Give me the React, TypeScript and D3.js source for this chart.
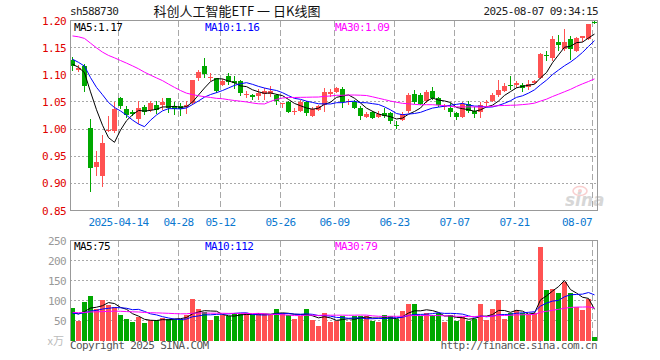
import React from 'react';
import * as d3 from 'd3';

// trading days shown on the chart
const dates = [
  '2025-04-01', '2025-04-02', '2025-04-03', '2025-04-07', '2025-04-08', '2025-04-09', '2025-04-10', '2025-04-11',
  '2025-04-14', '2025-04-15', '2025-04-16', '2025-04-17', '2025-04-18', '2025-04-21', '2025-04-22', '2025-04-23',
  '2025-04-24', '2025-04-25', '2025-04-28', '2025-04-29', '2025-04-30', '2025-05-06', '2025-05-07', '2025-05-08',
  '2025-05-09', '2025-05-12', '2025-05-13', '2025-05-14', '2025-05-15', '2025-05-16', '2025-05-19', '2025-05-20',
  '2025-05-21', '2025-05-22', '2025-05-23', '2025-05-26', '2025-05-27', '2025-05-28', '2025-05-29', '2025-05-30',
  '2025-06-03', '2025-06-04', '2025-06-05', '2025-06-06', '2025-06-09', '2025-06-10', '2025-06-11', '2025-06-12',
  '2025-06-13', '2025-06-16', '2025-06-17', '2025-06-18', '2025-06-19', '2025-06-20', '2025-06-23', '2025-06-24',
  '2025-06-25', '2025-06-26', '2025-06-27', '2025-06-30', '2025-07-01', '2025-07-02', '2025-07-03', '2025-07-04',
  '2025-07-07', '2025-07-08', '2025-07-09', '2025-07-10', '2025-07-11', '2025-07-14', '2025-07-15', '2025-07-16',
  '2025-07-17', '2025-07-18', '2025-07-21', '2025-07-22', '2025-07-23', '2025-07-24', '2025-07-25', '2025-07-28',
  '2025-07-29', '2025-07-30', '2025-07-31', '2025-08-01', '2025-08-04', '2025-08-05', '2025-08-06', '2025-08-07',
];

const opens = [
  1.127, 1.108, 1.117, 1.002, 0.931, 0.914, 0.996, 0.997, 1.057, 1.037, 1.031, 1.018, 1.040, 1.036, 1.045, 1.045,
  1.058, 1.043, 1.042, 1.041, 1.048, 1.095, 1.117, 1.094, 1.094, 1.081, 1.098, 1.089, 1.088, 1.063, 1.063, 1.061,
  1.064, 1.064, 1.063, 1.046, 1.050, 1.032, 1.034, 1.049, 1.025, 1.036, 1.045, 1.064, 1.069, 1.074, 1.050, 1.050,
  1.039, 1.023, 1.031, 1.023, 1.030, 1.029, 1.008, 1.017, 1.034, 1.064, 1.062, 1.051, 1.071, 1.057, 1.040, 1.039,
  1.029, 1.023, 1.047, 1.033, 1.031, 1.048, 1.052, 1.063, 1.071, 1.082, 1.082, 1.082, 1.077, 1.085, 1.094, 1.137,
  1.131, 1.161, 1.147, 1.166, 1.144, 1.168, 1.166, 1.198,
];
const highs = [
  1.133, 1.118, 1.119, 1.019, 0.960, 0.989, 1.024, 1.050, 1.060, 1.042, 1.036, 1.052, 1.045, 1.051, 1.051, 1.057,
  1.058, 1.049, 1.048, 1.051, 1.091, 1.109, 1.131, 1.103, 1.095, 1.093, 1.104, 1.097, 1.091, 1.071, 1.064, 1.074,
  1.075, 1.080, 1.065, 1.048, 1.051, 1.039, 1.053, 1.051, 1.040, 1.045, 1.075, 1.073, 1.078, 1.078, 1.056, 1.053,
  1.042, 1.031, 1.034, 1.034, 1.038, 1.031, 1.014, 1.032, 1.066, 1.072, 1.066, 1.072, 1.077, 1.060, 1.046, 1.048,
  1.032, 1.050, 1.052, 1.040, 1.050, 1.054, 1.067, 1.091, 1.085, 1.097, 1.089, 1.085, 1.091, 1.091, 1.140, 1.143,
  1.171, 1.174, 1.185, 1.171, 1.170, 1.172, 1.194, 1.200,
];
const lows = [
  1.107, 1.106, 1.069, 0.885, 0.913, 0.893, 0.995, 0.993, 1.037, 1.021, 1.025, 1.010, 1.026, 1.032, 1.028, 1.036,
  1.030, 1.026, 1.024, 1.028, 1.045, 1.088, 1.095, 1.088, 1.067, 1.079, 1.082, 1.074, 1.061, 1.057, 1.054, 1.054,
  1.054, 1.059, 1.045, 1.039, 1.029, 1.026, 1.032, 1.024, 1.022, 1.033, 1.032, 1.060, 1.066, 1.039, 1.045, 1.037,
  1.017, 1.020, 1.018, 1.020, 1.021, 1.009, 1.000, 1.014, 1.029, 1.047, 1.044, 1.048, 1.054, 1.040, 1.035, 1.023,
  1.016, 1.021, 1.030, 1.020, 1.020, 1.043, 1.049, 1.060, 1.069, 1.072, 1.075, 1.069, 1.072, 1.083, 1.092, 1.126,
  1.126, 1.143, 1.143, 1.128, 1.142, 1.161, 1.165, 1.193,
];
const closes = [
  1.117, 1.112, 1.080, 0.929, 0.940, 0.974, 0.998, 1.037, 1.042, 1.026, 1.028, 1.039, 1.031, 1.048, 1.036, 1.050,
  1.039, 1.037, 1.037, 1.044, 1.091, 1.105, 1.101, 1.096, 1.071, 1.089, 1.086, 1.085, 1.067, 1.064, 1.060, 1.067,
  1.071, 1.071, 1.051, 1.048, 1.032, 1.034, 1.050, 1.030, 1.037, 1.042, 1.069, 1.069, 1.075, 1.049, 1.052, 1.039,
  1.025, 1.028, 1.020, 1.027, 1.025, 1.014, 1.007, 1.028, 1.063, 1.050, 1.046, 1.069, 1.058, 1.044, 1.042, 1.032,
  1.023, 1.047, 1.034, 1.028, 1.045, 1.050, 1.063, 1.072, 1.080, 1.080, 1.085, 1.076, 1.083, 1.089, 1.138, 1.135,
  1.166, 1.155, 1.160, 1.147, 1.168, 1.171, 1.193, 1.196,
];
// volume in 万手
const volumes = [
  82, 49, 96, 111, 78, 101, 88, 84, 63, 54, 46, 58, 44, 51, 51, 57,
  55, 55, 55, 65, 103, 78, 72, 51, 62, 63, 61, 68, 66, 68, 63, 68,
  66, 63, 80, 68, 63, 54, 61, 80, 51, 37, 68, 46, 49, 62, 47, 62,
  62, 62, 49, 46, 63, 61, 55, 73, 91, 91, 61, 68, 63, 68, 46, 63,
  49, 59, 49, 55, 91, 51, 78, 101, 54, 68, 76, 68, 63, 68, 233, 126,
  128, 118, 146, 118, 83, 76, 103, 10,
];

// sessions before 04-01, only feeding the moving averages
const priorCloses = [
  1.16, 1.17, 1.19, 1.2, 1.21, 1.18, 1.17, 1.19, 1.17, 1.18, 1.2, 1.22, 1.21, 1.19, 1.2,
  1.23, 1.22, 1.21, 1.19, 1.17, 1.17, 1.15, 1.14, 1.12, 1.11, 1.14, 1.13, 1.105, 1.105,
];
const priorVolumes = [
  72, 80, 75, 68, 85, 70, 66, 74, 78, 62, 70, 82, 68, 64, 73,
  71, 77, 69, 65, 60, 64, 68, 70, 62, 66, 70, 65, 68, 67,
];

const priceTicks = [1.2, 1.15, 1.1, 1.05, 1.0, 0.95, 0.9, 0.85];
const volumeTicks = [250, 200, 150, 100, 50];
const dateTicks = ['2025-04-14', '2025-04-28', '2025-05-12', '2025-05-26', '2025-06-09', '2025-06-23', '2025-07-07', '2025-07-21', '2025-08-07'];
const dateTickLabels = ['2025-04-14', '04-28', '05-12', '05-26', '06-09', '06-23', '07-07', '07-21', '08-07'];

const priceLegend = ['MA5:1.17', 'MA10:1.16', 'MA30:1.09'];
const volumeLegend = ['MA5:75', 'MA10:112', 'MA30:79'];

const RED = '#ff5252';
const GREEN = '#00a800';
const MA_COLORS = ['#000000', '#0000ff', '#ff00ff'];
const GRID = '#a8a8a8';
const MONO = '"DejaVu Sans Mono", monospace';

const LEFT = 70;
const RIGHT = 598;

const movingAverage = (prior: number[], values: number[], n: number) => {
  const all = prior.concat(values);
  return values.map((_, i) => {
    const end = prior.length + i + 1;
    return d3.mean(all.slice(end - n, end)) as number;
  });
};

const App: React.FC = () => {
  const x = d3.scaleBand<string>().domain(dates).range([69, 597]);
  const yPrice = d3.scaleLinear().domain([0.85, 1.2]).range([210.5, 20.5]);
  const yVol = d3.scaleLinear().domain([0, 250]).range([340.5, 240.5]);

  const cx = (i: number) => (x(dates[i]) as number) + 3.5;
  const crisp = (v: number) => Math.round(v - 0.5) + 0.5;

  const priceMA = [5, 10, 30].map((n) => movingAverage(priorCloses, closes, n));
  const volMA = [5, 10, 30].map((n) => movingAverage(priorVolumes, volumes, n));

  const priceLine = d3.line<number>().x((_, i) => cx(i)).y((v) => yPrice(v));
  const volLine = d3.line<number>().x((_, i) => cx(i)).y((v) => yVol(v));

  const isUp = (i: number) => closes[i] >= opens[i];

  const vGrid = (y1: number, y2: number) =>
    dateTicks.map((d) => (
      <line
        key={`${d}-${y1}`}
        x1={(x(d) as number) + 1.5}
        x2={(x(d) as number) + 1.5}
        y1={y1}
        y2={y2}
        stroke={GRID}
        strokeDasharray='6,3'
      />
    ));

  return (
    <svg
      width={660}
      height={360}
      style={{ position: 'absolute', left: 0, top: 0, background: '#fff' }}
      fontFamily={MONO}
    >
      <rect width={660} height={360} fill='#fff' />

      {/* header */}
      <text x={70} y={15} fontSize={11} letterSpacing={-0.6} fill='#222'>sh588730</text>
      <text x={237} y={16} fontSize={13} textAnchor='middle' fontFamily='"Noto Sans CJK SC", sans-serif' fill='#111'>
        科创人工智能ETF 一 日K线图
      </text>
      <text x={598} y={15} fontSize={11} letterSpacing={-0.6} textAnchor='end' fill='#222'>2025-08-07 09:34:15</text>

      {/* grid */}
      <g shapeRendering='crispEdges'>
        {priceTicks.slice(1, -1).map((t) => (
          <line key={t} x1={LEFT} x2={RIGHT} y1={crisp(yPrice(t))} y2={crisp(yPrice(t))} stroke={GRID} strokeDasharray='2,2' />
        ))}
        {vGrid(21, 210)}
        {volumeTicks.slice(1).map((t) => (
          <line key={t} x1={LEFT} x2={RIGHT} y1={crisp(yVol(t))} y2={crisp(yVol(t))} stroke={GRID} strokeDasharray='2,2' />
        ))}
        {vGrid(241, 340)}
      </g>

      {/* sina watermark */}
      <g opacity={0.5}>
        <ellipse cx={580} cy={191} rx={7} ry={4.5} fill='none' stroke='#f4a0a0' strokeWidth={1.5} />
        <circle cx={580} cy={191} r={2} fill='#f4a0a0' />
        <text x={565} y={206} fontSize={17} fontStyle='italic' fontWeight='bold' fontFamily='"DejaVu Sans", sans-serif' fill='#b0b0b0'>
          sina
        </text>
      </g>

      {/* candles */}
      <g shapeRendering='crispEdges'>
        {dates.map((d, i) => {
          const color = isUp(i) ? RED : GREEN;
          const xb = x(d) as number;
          const top = yPrice(Math.max(opens[i], closes[i]));
          const bottom = yPrice(Math.min(opens[i], closes[i]));
          return (
            <g key={d}>
              <line x1={xb + 3.5} x2={xb + 3.5} y1={yPrice(highs[i])} y2={yPrice(lows[i])} stroke={color} />
              <rect x={xb + 1} y={top} width={5} height={Math.max(1, bottom - top)} fill={color} />
            </g>
          );
        })}
      </g>

      {/* price moving averages */}
      {priceMA.map((ma, k) => (
        <path key={k} d={priceLine(ma) as string} fill='none' stroke={MA_COLORS[k]} strokeWidth={1} />
      ))}

      {/* volume bars */}
      <g shapeRendering='crispEdges'>
        {dates.map((d, i) => (
          <rect
            key={d}
            x={(x(d) as number) + 1}
            y={yVol(volumes[i])}
            width={5}
            height={yVol(0) - yVol(volumes[i])}
            fill={isUp(i) ? RED : GREEN}
          />
        ))}
      </g>

      {volMA.map((ma, k) => (
        <path key={k} d={volLine(ma) as string} fill='none' stroke={MA_COLORS[k]} strokeWidth={1} />
      ))}

      {/* frames */}
      <g shapeRendering='crispEdges' fill='none' stroke='#999'>
        <rect x={70.5} y={20.5} width={527} height={190} />
        <path d='M70.5,340.5V240.5H597.5V340.5' />
      </g>

      {/* legends */}
      {priceLegend.map((t, k) => (
        <text key={t} x={[74, 205, 335][k]} y={31} fontSize={11} letterSpacing={-0.6} fill={MA_COLORS[k]}>{t}</text>
      ))}
      {volumeLegend.map((t, k) => (
        <text key={t} x={[74, 205, 335][k]} y={250} fontSize={11} letterSpacing={-0.6} fill={MA_COLORS[k]}>{t}</text>
      ))}

      {/* price axis labels */}
      {priceTicks.map((t) => (
        <text key={t} x={66} y={yPrice(t) + 4} fontSize={11} letterSpacing={-0.6} textAnchor='end' fill='#e00000'>
          {t.toFixed(2)}
        </text>
      ))}

      {/* volume axis labels */}
      {volumeTicks.map((t) => (
        <text key={t} x={66} y={yVol(t) + 4} fontSize={11} letterSpacing={-0.6} textAnchor='end' fill='#999'>
          {t}
        </text>
      ))}
      <text x={64} y={345} fontSize={11} textAnchor='end' fill='#bbb' fontFamily='"Noto Sans CJK SC", sans-serif'>x万</text>

      {/* date labels */}
      {dateTicks.map((d, k) => {
        const gx = (x(d) as number) + 1.5;
        const half = (dateTickLabels[k].length * 6) / 2;
        const last = gx + half > 596;
        return (
          <text
            key={d}
            x={last ? 592 : gx}
            y={226}
            fontSize={11}
            letterSpacing={-0.6}
            textAnchor={last ? 'end' : 'middle'}
            fill='#0a78d0'
          >
            {dateTickLabels[k]}
          </text>
        );
      })}

      {/* footer */}
      <text x={70} y={349} fontSize={11} letterSpacing={-0.6} fill='#555'>Copyright 2025 SINA.COM</text>
      <text x={597} y={349} fontSize={11} letterSpacing={-0.6} textAnchor='end' fill='#555'>http://finance.sina.com.cn</text>
    </svg>
  );
};

export default App;
